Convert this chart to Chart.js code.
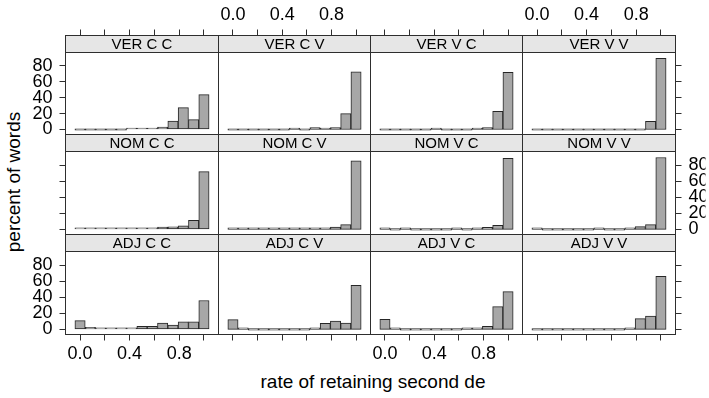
<!DOCTYPE html>
<html>
<head>
<meta charset="utf-8">
<script src="https://cdn.jsdelivr.net/npm/chart.js@4/dist/chart.umd.min.js"></script>
<style>
  html, body { margin: 0; padding: 0; background: #ffffff; }
  #fig { position: relative; width: 709px; height: 398px; overflow: hidden;
         font-family: 'Liberation Sans', Arial, Helvetica, sans-serif; }
  #fig canvas { position: absolute; left: 0; top: 0; }
  .axis-title { position: absolute; color: #000; font-size: 19px; white-space: nowrap;
                transform: translate(-50%, -50%); }
  #ytitle { transform: translate(-50%, -50%) rotate(-90deg); }
</style>
</head>
<body>
<div id="fig">
  <div class="axis-title" id="xtitle" style="left:373px; top:382px;">rate of retaining second de</div>
  <div class="axis-title" id="ytitle" style="left:14px; top:182px;">percent of words</div>
</div>
<script>
// Histogram bin midpoints (rate of retaining the second "de")
const binMids = [0, 0.0833, 0.1667, 0.25, 0.3333, 0.4167, 0.5, 0.5833, 0.6667, 0.75, 0.8333, 0.9167, 1];

// Axis ticks
const xTicks = [0, 0.2, 0.4, 0.6, 0.8, 1.0];
const xTickLabels = ['0.0', '', '0.4', '', '0.8', ''];
const yTicks = [0, 20, 40, 60, 80];
const yTickLabels = ['0', '20', '40', '60', '80'];

// Panel titles, row by row (top to bottom), left to right
const panelNames = [
  'VER C C', 'VER C V', 'VER V C', 'VER V V',
  'NOM C C', 'NOM C V', 'NOM V C', 'NOM V V',
  'ADJ C C', 'ADJ C V', 'ADJ V C', 'ADJ V V'
];

// Percent of words in each bin
const verCC = [0, 0, 0, 0, 0, 0.3, 0.8, 0.8, 3, 10.5, 27.5, 12.5, 44];
const verCV = [0, 0, 0, 0, 0, 0, 1.5, 0, 2.5, 1, 2.5, 20, 72.5];
const verVC = [0, 0, 0, 0, 0, 1.5, 0, 0, 0, 1, 2.5, 23, 72];
const verVV = [0, 0, 0, 0, 0, 0, 0, 0, 0, 0, 0, 10.3, 89.7];
const nomCC = [0.3, 0.3, 0.3, 0.3, 0.5, 0.5, 0.8, 1.7, 3, 3.4, 4.6, 11.4, 72];
const nomCV = [0.3, 0.3, 0.2, 0.2, 0.3, 0.3, 0.4, 0.5, 0.8, 1.7, 3, 6, 85.5];
const nomVC = [0.4, 0, 0.4, 0, 0, 0, 0, 1.3, 0, 0.8, 2.5, 5, 88.6];
const nomVV = [0.2, 0, 0, 0, 0, 0, 0.3, 0, 0, 0.3, 3.5, 6, 89.5];
const adjCC = [11, 2.5, 1.5, 1.5, 2, 2, 4, 4, 8, 5.5, 9.5, 9.5, 36];
const adjCV = [12.2, 1.7, 0, 0, 0, 0, 0, 0, 1.7, 7.6, 10.5, 8, 55];
const adjVC = [12.7, 1.7, 0, 0, 0, 0, 0, 0, 1.3, 1.3, 3.8, 28.3, 47];
const adjVV = [0, 0, 0, 0, 0, 0, 0, 0, 0, 2.1, 13.5, 16.5, 66.2];

const panelValues = [verCC, verCV, verVC, verVV, nomCC, nomCV, nomVC, nomVV, adjCC, adjCV, adjVC, adjVV];

// ---- layout & style ----
const W = 709, H = 398;
const colX = [65.5, 218.5, 370.5, 522.5, 675.5];
const rowY = [35.5, 134.5, 234.5, 334.5];
const X_MIN = -0.1175, X_MAX = 1.1175;
const Y_MIN = -6.3, Y_MAX = 97;
const LEFT_W = 45, RIGHT_W = 30, TOP_H = 30, BOTTOM_H = 30;
const FONT = "'Liberation Sans', Arial, Helvetica, sans-serif";
const BAR_FILL = '#a7a7a7';
const BAR_EDGE = '#262626';
const FRAME = '#2e2e2e';
const STRIP_FILL = '#e6e6e6';
const TICK_FONT = { family: FONT, size: 18 };

// strip background behind the panel title, and the panel frame on top
const stripFrame = {
  id: 'stripFrame',
  beforeDraw(chart) {
    const ctx = chart.ctx, a = chart.chartArea, tb = chart.titleBlock;
    ctx.save();
    ctx.fillStyle = STRIP_FILL;
    ctx.fillRect(a.left, tb.top, a.right - a.left, a.top - tb.top);
    ctx.restore();
  },
  afterDraw(chart) {
    const ctx = chart.ctx, a = chart.chartArea, tb = chart.titleBlock;
    ctx.save();
    ctx.strokeStyle = FRAME;
    ctx.lineWidth = 1;
    ctx.strokeRect(a.left, tb.top, a.right - a.left, a.bottom - tb.top);
    ctx.beginPath();
    ctx.moveTo(a.left, a.top);
    ctx.lineTo(a.right, a.top);
    ctx.stroke();
    ctx.restore();
  }
};

function xAxis(position, show, labelled) {
  return {
    type: 'linear', axis: 'x', position, display: show, weight: 1,
    min: X_MIN, max: X_MAX, offset: false,
    afterBuildTicks: s => { s.ticks = xTicks.map(v => ({ value: v })); },
    afterFit: s => { s.height = show ? (position === 'top' ? TOP_H : BOTTOM_H) : 0; },
    grid: { display: true, offset: false, drawOnChartArea: false, drawTicks: true, tickLength: 6, color: FRAME, lineWidth: 1 },
    border: { display: false },
    ticks: { autoSkip: false, maxRotation: 0, minRotation: 0, padding: position === 'top' ? 4 : 3,
             color: '#000', font: TICK_FONT,
             callback: (v, i) => labelled ? xTickLabels[i] : '' }
  };
}

function yAxis(position, show, labelled) {
  return {
    type: 'linear', axis: 'y', position, display: show, weight: 1,
    min: Y_MIN, max: Y_MAX,
    afterBuildTicks: s => { s.ticks = yTicks.map(v => ({ value: v })); },
    afterFit: s => { s.width = show ? (position === 'left' ? LEFT_W : RIGHT_W) : 0; },
    grid: { display: true, drawOnChartArea: false, drawTicks: true, tickLength: 6, color: FRAME, lineWidth: 1 },
    border: { display: false },
    ticks: { autoSkip: false, padding: 7, color: '#000', font: TICK_FONT,
             callback: (v, i) => labelled ? yTickLabels[i] : '' }
  };
}

const fig = document.getElementById('fig');

panelNames.forEach((name, k) => {
  const r = Math.floor(k / 4), c = k % 4;
  const hasL = c === 0, hasR = c === 3, hasT = r === 0, hasB = r === 2;
  const left = colX[c], right = colX[c + 1], top = rowY[r], bottom = rowY[r + 1];

  const canvas = document.createElement('canvas');
  canvas.width = W; canvas.height = H;
  canvas.style.width = W + 'px'; canvas.style.height = H + 'px';
  fig.appendChild(canvas);

  const values = panelValues[k];
  new Chart(canvas, {
    type: 'bar',
    data: {
      datasets: [{
        data: binMids.map((x, i) => ({ x, y: values[i] })),
        backgroundColor: BAR_FILL,
        borderColor: BAR_EDGE,
        borderWidth: 1,
        borderSkipped: false,
        barPercentage: 1,
        categoryPercentage: 1,
        minBarLength: 1.5,
        grouped: false
      }]
    },
    options: {
      responsive: false,
      animation: false,
      devicePixelRatio: 1,
      events: [],
      layout: {
        padding: {
          left: hasL ? left - LEFT_W : left,
          right: hasR ? W - right - RIGHT_W : W - right,
          top: hasT ? top - TOP_H : top,
          bottom: hasB ? H - bottom - BOTTOM_H : H - bottom
        }
      },
      plugins: {
        legend: { display: false },
        tooltip: { enabled: false },
        title: {
          display: true, text: name, position: 'top', fullSize: false, weight: 0,
          align: 'center', color: '#000',
          padding: { top: 1, bottom: 0 },
          font: { family: FONT, size: 15, weight: 'normal', lineHeight: '16px' }
        }
      },
      scales: {
        x: xAxis('bottom', hasB, c === 0 || c === 2),
        xTop: xAxis('top', hasT, c === 1 || c === 3),
        y: yAxis('left', hasL, r === 0 || r === 2),
        yRight: yAxis('right', hasR, r === 1)
      }
    },
    plugins: [stripFrame]
  });
});
</script>
</body>
</html>
